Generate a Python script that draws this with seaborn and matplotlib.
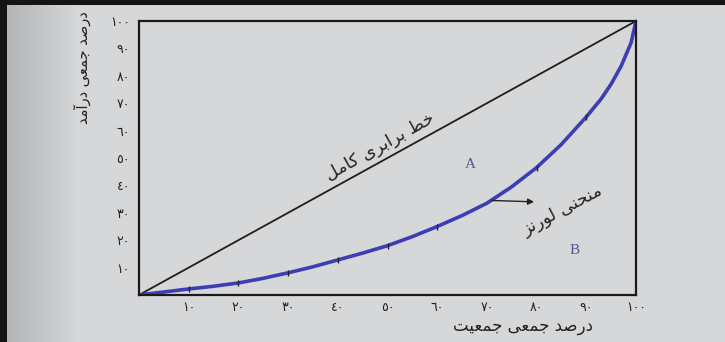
import numpy as np
import pandas as pd
import matplotlib
matplotlib.use("Agg")
import matplotlib.pyplot as plt
import seaborn as sns

# ---------------- data ----------------
population_pct = [0, 5, 10, 15, 20, 25, 30, 35, 40, 45, 50, 55, 60, 65, 70, 75,
                  80, 85, 90, 93, 95, 97, 99, 100]
income_pct = [0, 1.1, 2.2, 3.2, 4.4, 6.1, 8.1, 10.3, 12.8, 15.3, 18.0, 21.3,
              25.0, 29.0, 33.5, 39.5, 46.5, 55.0, 65.0, 71.6, 77.0, 83.5, 92.0, 100]
marker_pop = [10, 20, 30, 40, 50, 60, 80, 90]
marker_inc = [2.2, 4.4, 8.1, 12.8, 18.0, 25.0, 46.5, 65.0]
equality_x = [0, 100]
equality_y = [0, 100]
tick_values = [10, 20, 30, 40, 50, 60, 70, 80, 90, 100]
tick_labels = ["١٠", "٢٠", "٣٠", "٤٠", "٥٠", "٦٠", "٧٠", "٨٠", "٩٠", "١٠٠"]
xlabel_text = "درصد جمعی جمعیت"
ylabel_text = "درصد جمعی درآمد"
equality_text = "خط برابری کامل"
lorenz_text = "منحنی لورنز"

# ---------------- simple Persian shaping (matplotlib has no RTL shaping) ----
FORMS = {  # isolated, final, initial, medial
    "ا": ("\uFE8D", "\uFE8E", None, None),
    "آ": ("\uFE81", "\uFE82", None, None),
    "ب": ("\uFE8F", "\uFE90", "\uFE91", "\uFE92"),
    "ت": ("\uFE95", "\uFE96", "\uFE97", "\uFE98"),
    "ج": ("\uFE9D", "\uFE9E", "\uFE9F", "\uFEA0"),
    "ح": ("\uFEA1", "\uFEA2", "\uFEA3", "\uFEA4"),
    "خ": ("\uFEA5", "\uFEA6", "\uFEA7", "\uFEA8"),
    "د": ("\uFEA9", "\uFEAA", None, None),
    "ر": ("\uFEAD", "\uFEAE", None, None),
    "ز": ("\uFEAF", "\uFEB0", None, None),
    "ص": ("\uFEB9", "\uFEBA", "\uFEBB", "\uFEBC"),
    "ط": ("\uFEC1", "\uFEC2", "\uFEC3", "\uFEC4"),
    "ع": ("\uFEC9", "\uFECA", "\uFECB", "\uFECC"),
    "ل": ("\uFEDD", "\uFEDE", "\uFEDF", "\uFEE0"),
    "م": ("\uFEE1", "\uFEE2", "\uFEE3", "\uFEE4"),
    "ن": ("\uFEE5", "\uFEE6", "\uFEE7", "\uFEE8"),
    "و": ("\uFEED", "\uFEEE", None, None),
    "ی": ("\uFBFC", "\uFBFD", "\uFBFE", "\uFBFF"),
    "ک": ("\uFB8E", "\uFB8F", "\uFB90", "\uFB91"),
}


def shape(text):
    out = []
    n = len(text)
    for i, ch in enumerate(text):
        if ch not in FORMS:
            out.append(ch)
            continue
        iso, fin, ini, med = FORMS[ch]
        prev = text[i - 1] if i > 0 else None
        nxt = text[i + 1] if i < n - 1 else None
        join_prev = prev in FORMS and FORMS[prev][2] is not None
        join_next = ini is not None and nxt in FORMS
        if join_prev and join_next:
            out.append(med)
        elif join_prev:
            out.append(fin)
        elif join_next:
            out.append(ini)
        else:
            out.append(iso)
    return "".join(out)[::-1]


# ---------------- figure ----------------
sns.set_theme(style="white")
plt.rcParams["font.family"] = ["DejaVu Sans"]

paper = "#d6d7d9"
fig = plt.figure(figsize=(7.25, 3.42), dpi=100, facecolor=paper)

# photo-like background: dark border + shadow on the left
bg = fig.add_axes([0, 0, 1, 1], zorder=-10)
W, H = 725, 342
cols = np.arange(W)
shade = np.clip((cols - 8) / 70.0, 0, 1)
base = np.array([0xd6, 0xd7, 0xd9]) / 255.0
dark_shade = np.array([0xb4, 0xb5, 0xb7]) / 255.0
row = dark_shade[None, :] * (1 - shade[:, None]) + base[None, :] * shade[:, None]
img = np.repeat(row[None, :, :], H, axis=0)
img[:, :7, :] = 0.08
img[:5, :, :] = 0.08
bg.imshow(img, aspect="auto", extent=[0, 1, 0, 1], interpolation="bilinear")
bg.axis("off")

ax = fig.add_axes([139 / W, 1 - 295 / H, (636 - 139) / W, (295 - 21) / H])
ax.set_facecolor("none")

curve_df = pd.DataFrame({"pop": population_pct, "inc": income_pct})
eq_df = pd.DataFrame({"pop": equality_x, "inc": equality_y})
mk_df = pd.DataFrame({"pop": marker_pop, "inc": marker_inc})

sns.lineplot(data=eq_df, x="pop", y="inc", ax=ax, color="#1e1e1e", linewidth=1.3)
sns.lineplot(data=curve_df, x="pop", y="inc", ax=ax, color="#3d3db4",
             linewidth=2.6, solid_joinstyle="round", solid_capstyle="round")
sns.scatterplot(data=mk_df, x="pop", y="inc", ax=ax, marker="|", s=18,
                color="#222222", linewidth=1.0, zorder=5)

ax.set_xlim(0, 100)
ax.set_ylim(0, 100)
ax.set_xticks(tick_values)
ax.set_xticklabels(tick_labels)
ax.set_yticks(tick_values)
ax.set_yticklabels(tick_labels)
ax.tick_params(axis="both", direction="inout", length=5, width=1.0,
               colors="#222222", labelsize=9, pad=2)
ax.tick_params(axis="y", pad=4)
for sp in ax.spines.values():
    sp.set_visible(True)
    sp.set_color("#1a1a1a")
    sp.set_linewidth(1.6)

ax.set_xlabel("")
ax.set_ylabel("")

# axis titles
fig.text(523 / W, 1 - 326 / H, shape(xlabel_text), ha="center", va="center",
         fontsize=12, color="#222222")
fig.text(82 / W, 1 - 68 / H, shape(ylabel_text), ha="center", va="center",
         rotation=90, fontsize=10.5, color="#222222")

# annotations
ax.text(48.5, 54.0, shape(equality_text), ha="center", va="center",
        rotation=29, rotation_mode="anchor", fontsize=12.5, color="#222222")
ax.text(85.3, 31.0, shape(lorenz_text), ha="center", va="center",
        rotation=28, rotation_mode="anchor", fontsize=12.5, color="#222222")
ax.annotate("", xy=(79.5, 34.0), xytext=(71.0, 34.5),
            arrowprops=dict(arrowstyle="-|>", color="#222222", lw=1.0,
                            mutation_scale=9, shrinkA=0, shrinkB=0))
ax.text(66.6, 47.8, "A", ha="center", va="center", fontsize=11,
        color="#55569a", family=["Liberation Serif", "DejaVu Serif"])
ax.text(87.7, 16.4, "B", ha="center", va="center", fontsize=11,
        color="#55569a", family=["Liberation Serif", "DejaVu Serif"])

fig.savefig("out.png", dpi=100, facecolor=paper)
